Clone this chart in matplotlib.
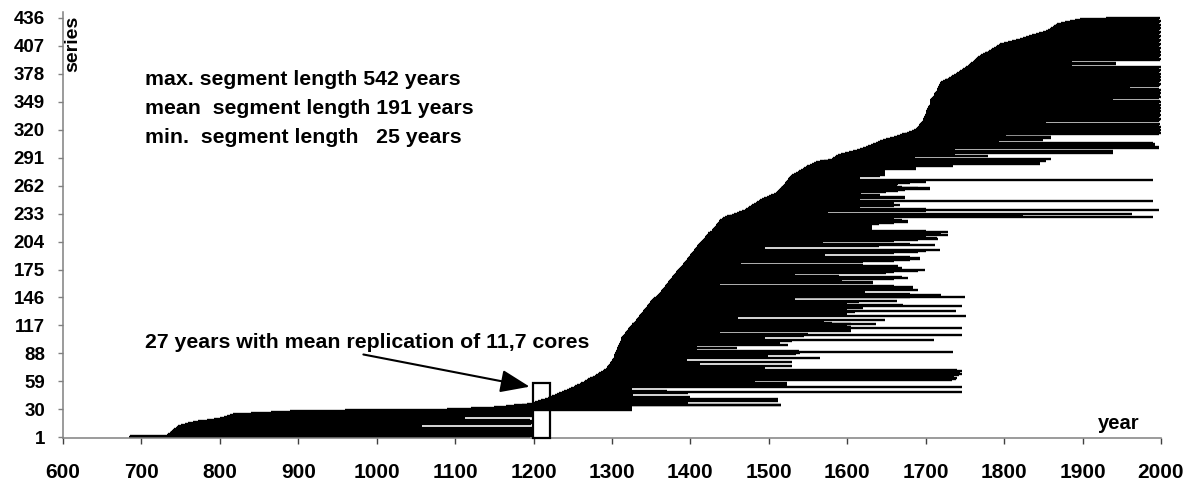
import matplotlib
matplotlib.use("Agg")
import matplotlib.pyplot as plt
from matplotlib.patches import Rectangle

plt.rcParams['font.family'] = ['Liberation Sans', 'DejaVu Sans']
plt.rcParams['font.weight'] = 'bold'

# first year of every series (sorted)
start_years = [
    684, 686, 732, 734, 736, 737, 738, 739, 740, 742,
    744, 745, 747, 750, 755, 760, 766, 772, 783, 792,
    800, 805, 809, 813, 817, 840, 865, 890, 960, 1090,
    1120, 1150, 1165, 1175, 1185, 1192, 1198, 1202, 1206, 1210,
    1214, 1218, 1221, 1224, 1227, 1230, 1233, 1236, 1239, 1242,
    1245, 1248, 1251, 1253, 1256, 1259, 1261, 1264, 1266, 1268,
    1270, 1272, 1274, 1276, 1278, 1280, 1282, 1284, 1286, 1288,
    1290, 1292, 1293, 1294, 1295, 1296, 1297, 1298, 1299, 1300,
    1300, 1301, 1302, 1302, 1303, 1303, 1304, 1304, 1305, 1305,
    1306, 1306, 1307, 1307, 1308, 1308, 1309, 1309, 1310, 1310,
    1311, 1311, 1312, 1312, 1313, 1314, 1315, 1316, 1317, 1318,
    1319, 1320, 1321, 1322, 1323, 1324, 1325, 1326, 1327, 1328,
    1329, 1330, 1331, 1332, 1333, 1334, 1335, 1336, 1337, 1338,
    1339, 1340, 1341, 1342, 1343, 1344, 1345, 1346, 1347, 1348,
    1349, 1350, 1351, 1352, 1354, 1356, 1357, 1358, 1359, 1360,
    1361, 1362, 1363, 1364, 1365, 1366, 1367, 1368, 1369, 1370,
    1371, 1372, 1373, 1374, 1375, 1376, 1377, 1378, 1379, 1380,
    1381, 1382, 1383, 1384, 1385, 1386, 1387, 1388, 1389, 1390,
    1391, 1392, 1393, 1394, 1395, 1396, 1397, 1398, 1399, 1400,
    1401, 1402, 1403, 1404, 1405, 1406, 1407, 1408, 1409, 1410,
    1411, 1412, 1413, 1414, 1415, 1416, 1417, 1418, 1419, 1420,
    1421, 1422, 1423, 1425, 1427, 1428, 1429, 1430, 1431, 1432,
    1433, 1434, 1435, 1436, 1437, 1438, 1440, 1442, 1444, 1447,
    1450, 1453, 1456, 1459, 1462, 1466, 1469, 1471, 1473, 1475,
    1477, 1479, 1481, 1483, 1485, 1487, 1489, 1491, 1494, 1497,
    1500, 1503, 1506, 1509, 1511, 1512, 1513, 1514, 1515, 1516,
    1517, 1518, 1519, 1520, 1521, 1522, 1523, 1524, 1525, 1526,
    1527, 1528, 1530, 1532, 1535, 1537, 1539, 1541, 1543, 1545,
    1547, 1549, 1552, 1555, 1557, 1560, 1565, 1570, 1576, 1580,
    1582, 1584, 1586, 1588, 1592, 1597, 1602, 1607, 1612, 1616,
    1620, 1624, 1627, 1630, 1633, 1636, 1639, 1642, 1645, 1650,
    1655, 1660, 1664, 1667, 1670, 1673, 1676, 1679, 1682, 1685,
    1688, 1689, 1690, 1691, 1692, 1693, 1694, 1695, 1696, 1697,
    1697, 1698, 1698, 1699, 1699, 1700, 1700, 1701, 1701, 1702,
    1702, 1703, 1703, 1704, 1704, 1705, 1705, 1705, 1706, 1706,
    1706, 1707, 1708, 1709, 1710, 1711, 1711, 1712, 1713, 1714,
    1714, 1715, 1716, 1716, 1717, 1717, 1718, 1718, 1720, 1722,
    1724, 1726, 1728, 1730, 1732, 1734, 1736, 1738, 1740, 1742,
    1744, 1746, 1748, 1750, 1752, 1754, 1755, 1757, 1758, 1760,
    1761, 1763, 1764, 1766, 1767, 1769, 1771, 1773, 1775, 1777,
    1779, 1781, 1783, 1785, 1787, 1789, 1791, 1793, 1795, 1800,
    1805, 1810, 1815, 1820, 1824, 1828, 1832, 1836, 1840, 1845,
    1850, 1854, 1856, 1858, 1860, 1862, 1864, 1865, 1866, 1867,
    1872, 1878, 1884, 1890, 1897, 1930,
]

# last year of every series
end_years = [
    1196, 1198, 1199, 1197, 1200, 1198, 1199, 1196, 1200, 1198,
    1199, 1058, 1058, 1058, 1197, 1200, 1198, 1199, 1196, 1112,
    1112, 1112, 1199, 1198, 1200, 1197, 1199, 1198, 1325, 1325,
    1325, 1325, 1325, 1515, 1515, 1397, 1397, 1397, 1512, 1512,
    1512, 1399, 1399, 1327, 1327, 1327, 1397, 1746, 1370, 1325,
    1325, 1325, 1746, 1480, 1523, 1523, 1523, 1482, 1482, 1734,
    1738, 1734, 1740, 1736, 1734, 1742, 1746, 1738, 1744, 1746,
    1740, 1495, 1495, 1495, 1530, 1412, 1412, 1412, 1530, 1395,
    1395, 1395, 1565, 1499, 1499, 1499, 1535, 1540, 1735, 1538,
    1408, 1408, 1408, 1459, 1408, 1408, 1525, 1514, 1514, 1514,
    1530, 1711, 1495, 1495, 1495, 1545, 1746, 1550, 1438, 1438,
    1605, 1605, 1605, 1746, 1605, 1600, 1590, 1637, 1605, 1580,
    1570, 1560, 1648, 1461, 1461, 1461, 1751, 1590, 1600, 1585,
    1610, 1739, 1600, 1595, 1620, 1610, 1746, 1671, 1600, 1595,
    1615, 1664, 1533, 1533, 1533, 1680, 1750, 1720, 1720, 1680,
    1622, 1622, 1622, 1690, 1684, 1684, 1684, 1660, 1438, 1438,
    1633, 1633, 1593, 1593, 1660, 1678, 1670, 1589, 1533, 1533,
    1650, 1660, 1690, 1699, 1665, 1670, 1670, 1665, 1665, 1620,
    1465, 1465, 1620, 1660, 1680, 1693, 1693, 1680, 1572, 1572,
    1572, 1660, 1690, 1700, 1718, 1495, 1495, 1495, 1640, 1712,
    1680, 1569, 1569, 1569, 1660, 1690, 1716, 1714, 1700, 1690,
    1729, 1700, 1720, 1729, 1700, 1631, 1631, 1631, 1631, 1631,
    1631, 1640, 1660, 1678, 1678, 1670, 1660, 1650, 1990, 1824,
    1824, 1824, 1963, 1576, 1576, 1700, 1997, 1700, 1616, 1616,
    1660, 1667, 1659, 1659, 1650, 1990, 1616, 1616, 1674, 1674,
    1642, 1642, 1618, 1618, 1650, 1665, 1674, 1705, 1705, 1690,
    1670, 1663, 1663, 1665, 1680, 1700, 1700, 1990, 1616, 1616,
    1616, 1642, 1648, 1648, 1648, 1648, 1648, 1648, 1688, 1688,
    1688, 1735, 1735, 1846, 1846, 1839, 1839, 1854, 1854, 1860,
    1686, 1686, 1780, 1737, 1737, 1939, 1939, 1939, 1737, 1737,
    1997, 1997, 1850, 1992, 1992, 1990, 1793, 1793, 1850, 1850,
    1860, 1860, 1803, 1803, 1860, 1998, 2000, 1997, 1999, 2000,
    1996, 1999, 2000, 1998, 1997, 1999, 1854, 1854, 1997, 1999,
    2000, 1998, 1996, 1999, 2000, 1997, 1999, 1998, 2000, 1996,
    1999, 2000, 1997, 1998, 1999, 2000, 1996, 1998, 2000, 1999,
    1939, 1939, 1998, 2000, 1997, 1999, 1998, 2000, 1996, 1999,
    2000, 1998, 1960, 1960, 1997, 1999, 2000, 1998, 1996, 1999,
    2000, 1997, 1999, 1998, 2000, 1996, 1999, 2000, 1997, 1998,
    1999, 2000, 1996, 1998, 2000, 1886, 1886, 1943, 1943, 1886,
    1886, 1999, 2000, 1997, 1998, 1999, 2000, 1996, 1999, 1998,
    2000, 1997, 1999, 1994, 2000, 1998, 1996, 1999, 2000, 1997,
    1998, 1999, 2000, 1995, 1998, 1999, 2000, 1997, 1996, 1999,
    2000, 1998, 1997, 1999, 2000, 1996, 1998, 1999, 2000, 1997,
    1998, 1999, 2000, 1996, 1998, 1999,
]

series_index = list(range(1, len(start_years) + 1))
assert len(start_years) == 436 and len(end_years) == 436

y_ticks = [1, 30, 59, 88, 117, 146, 175, 204, 233, 262, 291, 320, 349, 378, 407, 436]
x_ticks = [600, 700, 800, 900, 1000, 1100, 1200, 1300, 1400, 1500,
           1600, 1700, 1800, 1900, 2000]

stats_lines = ["max. segment length 542 years",
               "mean  segment length 191 years",
               "min.  segment length   25 years"]
replication_text = "27 years with mean replication of 11,7 cores"
box_years = (1199, 1221)
box_series_top = 57

W, H = 1192, 484
fig = plt.figure(figsize=(W / 100, H / 100), dpi=100)
ax = fig.add_axes([63 / W, 46 / H, 1098 / W, 426 / H])

ax.hlines(series_index, start_years, end_years, colors='black', linewidth=1.7)

ax.set_xlim(600, 2000)
ax.set_ylim(0.3, 442)

ax.set_xticks(x_ticks)
ax.set_yticks(y_ticks)
ax.set_xticklabels([str(v) for v in x_ticks], fontsize=15, fontweight='bold')
ax.set_yticklabels([str(v) for v in y_ticks], fontsize=13.5, fontweight='bold')

grey = '#808080'
for side in ['top', 'right']:
    ax.spines[side].set_visible(False)
for side in ['left', 'bottom']:
    ax.spines[side].set_color(grey)
    ax.spines[side].set_linewidth(1.1)
ax.tick_params(axis='y', direction='out', length=3.6, width=1.0, color=grey, pad=9.4)
ax.tick_params(axis='x', direction='out', length=4.3, width=1.0, color='#404040', pad=13.5)

# box around the weakly replicated period
ax.add_patch(Rectangle((box_years[0], 0.3), box_years[1] - box_years[0],
                       box_series_top - 0.3, fill=False, edgecolor='black',
                       linewidth=1.6, clip_on=False, zorder=5))

# statistics text
for txt, yb in zip(stats_lines, [366.4, 336.0, 306.0]):
    ax.text(704, yb, txt, fontsize=15.3, fontweight='bold', ha='left', va='baseline')

ax.text(704, 93.9, replication_text, fontsize=15.3, fontweight='bold',
        ha='left', va='baseline')
ax.annotate('', xy=(1195, 53.5), xytext=(983, 86.9),
            arrowprops=dict(arrowstyle='-|>,head_length=0.9,head_width=0.35',
                            mutation_scale=20, lw=1.5, color='black',
                            shrinkA=0, shrinkB=0))

ax.text(613, 408.8, 'series', rotation=90, fontsize=14, fontweight='bold',
        ha='center', va='center')
ax.text(1946, 9.6, 'year', fontsize=14.5, fontweight='bold', ha='center', va='baseline')

fig.savefig('out.png', dpi=100)
